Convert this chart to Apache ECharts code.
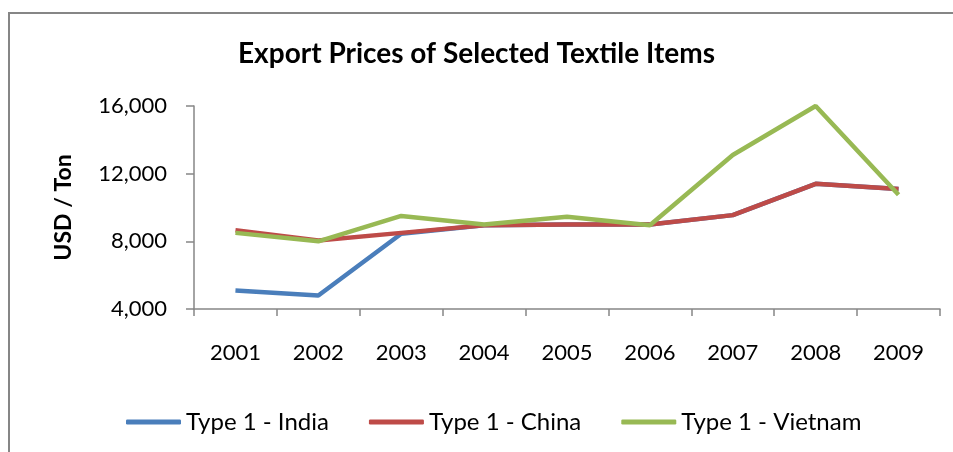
<!DOCTYPE html>
<html>
<head>
<meta charset="utf-8">
<script src="https://cdn.jsdelivr.net/npm/echarts@6/dist/echarts.min.js"></script>
<style>
  html, body { margin: 0; padding: 0; background: #fff; }
  #chart { width: 953px; height: 452px; }
</style>
</head>
<body>
<div id="chart"></div>
<script>
// data
var years = ['2001', '2002', '2003', '2004', '2005', '2006', '2007', '2008', '2009']
var india = [5100, 4800, 8450, 8950, 9000, 9000, 9550, 11400, 11100]
var china = [8650, 8050, 8500, 8950, 9000, 9000, 9550, 11400, 11100]
var vietnam = [8500, 8000, 9500, 9000, 9450, 8950, 13100, 16000, 10750]

var font = 'Lato, "Open Sans", sans-serif'
var axisGray = '#868686'

var chart = echarts.init(document.getElementById('chart'))

function lineSeries(name, data, color) {
  return {
    name: name,
    type: 'line',
    data: data,
    symbol: 'none',
    itemStyle: { color: color },
    lineStyle: { color: color, width: 4.5 },
    animation: false
  }
}

chart.setOption({
  backgroundColor: '#fff',
  graphic: [{
    type: 'rect',
    shape: { x: 9, y: 13, width: 1000, height: 500 },
    style: { fill: 'none', stroke: axisGray, lineWidth: 2 },
    silent: true
  }],
  title: {
    text: 'Export Prices of Selected Textile Items',
    left: 'center',
    top: 35,
    textStyle: { fontFamily: font, fontWeight: 'bold', fontSize: 28, color: '#000' }
  },
  grid: { left: 194, right: 13, top: 106, bottom: 143 },
  legend: {
    top: 405,
    left: 121,
    icon: 'roundRect',
    itemWidth: 55,
    itemHeight: 5,
    itemGap: 40,
    textStyle: { fontFamily: font, fontSize: 24, color: '#000' },
    data: ['Type 1 - India', 'Type 1 - China', 'Type 1 - Vietnam']
  },
  xAxis: {
    type: 'category',
    data: years,
    boundaryGap: true,
    axisLine: { lineStyle: { color: axisGray, width: 1.5 } },
    axisTick: { show: true, length: 7, lineStyle: { color: axisGray, width: 1.5 } },
    axisLabel: { fontFamily: font, fontSize: 22, color: '#000', margin: 33 }
  },
  yAxis: {
    type: 'value',
    min: 4000,
    max: 16000,
    interval: 4000,
    name: 'USD / Ton',
    nameLocation: 'middle',
    nameGap: 119,
    nameTextStyle: { fontFamily: font, fontWeight: 'bold', fontSize: 23, color: '#000' },
    splitLine: { show: false },
    axisLine: { show: true, lineStyle: { color: axisGray, width: 1.5 } },
    axisTick: { show: true, length: 8, lineStyle: { color: axisGray, width: 1.5 } },
    axisLabel: {
      fontFamily: font, fontSize: 22, color: '#000', margin: 27,
      formatter: function (v) { return v.toLocaleString('en-US') }
    }
  },
  series: [
    lineSeries('Type 1 - India', india, '#4a7ebb'),
    lineSeries('Type 1 - China', china, '#be4b48'),
    lineSeries('Type 1 - Vietnam', vietnam, '#98b954')
  ]
})
</script>
</body>
</html>
